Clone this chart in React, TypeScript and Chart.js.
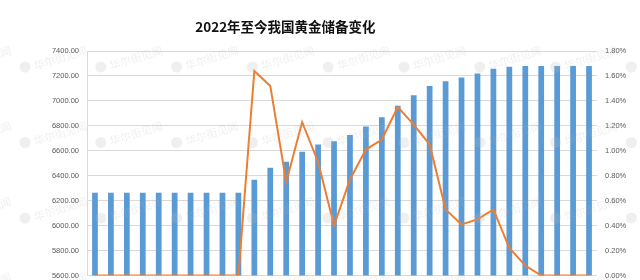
import React, { useEffect, useRef } from "react";
import { Chart, registerables } from "chart.js";

Chart.register(...registerables);

const months: string[] = [
  "2022-01", "2022-02", "2022-03", "2022-04", "2022-05", "2022-06", "2022-07", "2022-08",
  "2022-09", "2022-10", "2022-11", "2022-12", "2023-01", "2023-02", "2023-03", "2023-04",
  "2023-05", "2023-06", "2023-07", "2023-08", "2023-09", "2023-10", "2023-11", "2023-12",
  "2024-01", "2024-02", "2024-03", "2024-04", "2024-05", "2024-06", "2024-07", "2024-08",
];

const reserves: number[] = [
  6264, 6264, 6264, 6264, 6264, 6264, 6264, 6264, 6264, 6264,
  6367, 6464, 6512, 6592, 6650, 6676, 6727, 6795, 6869, 6962,
  7046, 7120, 7158, 7187, 7219, 7258, 7274, 7280, 7280, 7280, 7280, 7280,
];

const growthPct: number[] = [
  0, 0, 0, 0, 0, 0, 0, 0, 0, 0,
  1.64, 1.52, 0.75, 1.23, 0.91, 0.4, 0.77, 1.01, 1.09, 1.35,
  1.21, 1.05, 0.53, 0.41, 0.45, 0.53, 0.22, 0.08, 0, 0, 0, 0,
];

const titleText = "2022年至今我国黄金储备变化";
const watermarkText = "华尔街见闻";

const titlePlugin = {
  id: "customTitle",
  afterDraw(chart: any) {
    const ctx = chart.ctx;
    ctx.save();
    ctx.font = "bold 13.5px 'Noto Sans CJK SC'";
    ctx.fillStyle = "#111111";
    ctx.textAlign = "center";
    ctx.textBaseline = "middle";
    ctx.fillText(titleText, chart.width * 0.446, 27);
    ctx.restore();
  },
};

const watermarkPlugin = {
  id: "watermark",
  afterDatasetsDraw(chart: any) {
    const ctx = chart.ctx;
    ctx.save();
    const stepX = 75.8;
    const stepY = 75.5;
    for (let j = -1; j <= 3; j++) {
      for (let k = -1; k <= 9; k++) {
        const cx = 25 + k * stepX;
        const cy = 67 + j * stepY;
        ctx.globalAlpha = 0.22;
        ctx.fillStyle = "#b8b8b8";
        ctx.beginPath();
        ctx.arc(cx, cy, 5.5, 0, Math.PI * 2);
        ctx.fill();
        ctx.save();
        ctx.translate(cx + 9, cy - 1);
        ctx.rotate((-17 * Math.PI) / 180);
        ctx.font = "11px 'Noto Sans CJK SC'";
        ctx.textBaseline = "middle";
        ctx.fillText(watermarkText, 0, 0);
        ctx.restore();
      }
    }
    ctx.restore();
  },
};

export default function App() {
  const ref = useRef<HTMLCanvasElement | null>(null);

  useEffect(() => {
    document.body.style.margin = "0";
    if (!ref.current) return;
    const tickFont = { family: "'Liberation Sans', Arial, sans-serif", size: 7.5 };
    const chart = new Chart(ref.current, {
      type: "bar",
      data: {
        labels: months,
        datasets: [
          {
            type: "line",
            label: "增速",
            data: growthPct,
            yAxisID: "y1",
            borderColor: "#ED7D31",
            backgroundColor: "#ED7D31",
            borderWidth: 2,
            pointRadius: 0,
            tension: 0,
            order: 1,
          } as any,
          {
            type: "bar",
            label: "黄金储备",
            data: reserves,
            yAxisID: "y",
            backgroundColor: "#5B9BD5",
            barPercentage: 0.36,
            categoryPercentage: 1,
            order: 2,
          },
        ],
      },
      options: {
        responsive: false,
        animation: false,
        layout: { padding: { top: 51, bottom: 4, left: 0, right: 0 } },
        plugins: {
          legend: { display: false },
          title: { display: false },
          tooltip: { enabled: false },
        },
        scales: {
          x: { display: false },
          y: {
            position: "left",
            min: 5600,
            max: 7400,
            afterFit: (s: any) => {
              s.width = 87;
            },
            ticks: {
              stepSize: 200,
              padding: 0,
              color: "#595959",
              font: tickFont,
              callback: (v: any) => Number(v).toFixed(2),
            },
            grid: {
              color: "#d9d9d9",
              drawTicks: true,
              tickLength: 8,
              tickColor: "rgba(0,0,0,0)",
              lineWidth: 1,
            },
            border: { display: true, color: "#d9d9d9" },
          },
          y1: {
            position: "right",
            min: 0,
            max: 1.8,
            afterFit: (s: any) => {
              s.width = 43;
            },
            ticks: {
              stepSize: 0.2,
              padding: 0,
              color: "#595959",
              font: tickFont,
              callback: (v: any) => Number(v).toFixed(2) + "%",
            },
            grid: {
              display: true,
              drawOnChartArea: false,
              drawTicks: true,
              tickLength: 8,
              tickColor: "rgba(0,0,0,0)",
            },
            border: { display: false },
          },
        },
      },
      plugins: [titlePlugin, watermarkPlugin],
    });
    return () => chart.destroy();
  }, []);

  return (
    <div style={{ width: 640, height: 280, background: "#fff" }}>
      <canvas ref={ref} width={640} height={280} />
    </div>
  );
}
